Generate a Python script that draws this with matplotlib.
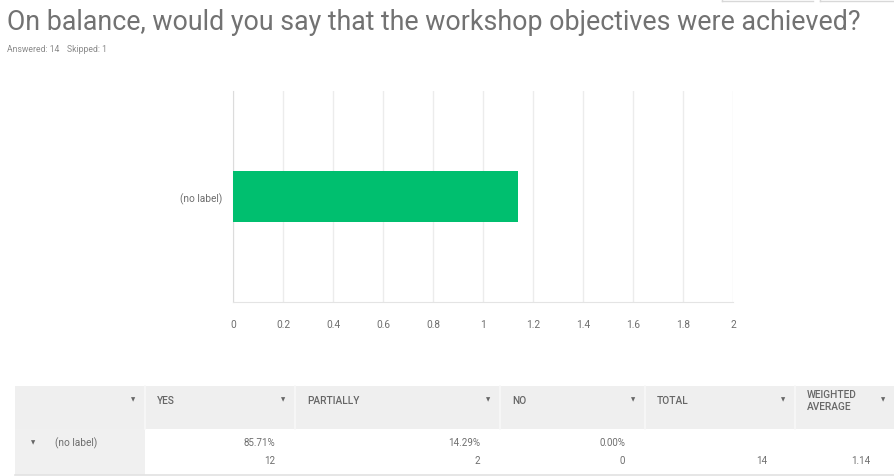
import matplotlib.pyplot as plt
from matplotlib.patches import Rectangle

# survey data
question = "On balance, would you say that the workshop objectives were achieved?"
answered = 14
skipped = 1
row_labels = ["(no label)"]
weighted_avg = [1.14]
choices = ["YES", "PARTIALLY", "NO"]
choice_pcts = [85.71, 14.29, 0.00]
choice_counts = [12, 2, 0]
totals = [14]
x_ticks = [0, 0.2, 0.4, 0.6, 0.8, 1, 1.2, 1.4, 1.6, 1.8, 2]
x_tick_labels = ["0", "0.2", "0.4", "0.6", "0.8", "1", "1.2", "1.4", "1.6", "1.8", "2"]

W, H = 895, 477
GREEN = "#00bf6f"
TXT = "#6e6e6e"
GRID = "#ececec"
plt.rcParams['font.family'] = ['Roboto', 'DejaVu Sans']

fig = plt.figure(figsize=(W / 100, H / 100), dpi=100)

# overlay axes in pixel coords for header text and table
ov = fig.add_axes([0, 0, 1, 1])
ov.set_xlim(0, W)
ov.set_ylim(H, 0)
ov.axis('off')

title = ov.text(7, 23, question, fontsize=16, color="#727272", va='center', ha='left')
# stretch the title to the width it has in the original (~853 px)
renderer = fig.canvas.get_renderer()
tw = title.get_window_extent(renderer).width
title.set_fontsize(16 * 853 / tw)

ov.text(7, 50, f"Answered: {answered}", fontsize=6.2, color="#8a8a8a", va='center')
ov.text(67, 50, f"Skipped: {skipped}", fontsize=6.2, color="#8a8a8a", va='center')

# faint button outlines at the top right
for x0, x1 in [(722, 813), (820, 895)]:
    ov.plot([x0, x1], [1.5, 1.5], color="#d8d8d8", lw=1)
    ov.plot([x0, x0], [0, 1.5], color="#d8d8d8", lw=1)

# bar chart
left, right, top, bottom = 233, 733, 92, 303
ax = fig.add_axes([left / W, 1 - bottom / H, (right - left) / W, (bottom - top) / H])
ax.barh(row_labels, weighted_avg, height=0.49, color=GREEN, zorder=3)
ax.set_xlim(0, 2)
ax.set_ylim(-1, 1)
ax.set_xticks(x_ticks)
ax.set_xticklabels(x_tick_labels)
ax.grid(axis='x', color=GRID, lw=1, zorder=0)
for s in ['top', 'right']:
    ax.spines[s].set_visible(False)
ax.spines['left'].set_color("#dcdcdc")
ax.spines['bottom'].set_color("#e4e4e4")
ax.tick_params(length=0, labelsize=7.3, colors=TXT, pad=12)
ax.tick_params(axis='y', pad=8)

# table
col_edges = [15, 145, 295, 500, 645, 795, 895]
head_top, head_bot, row_bot = 387, 430, 476
headers = [""] + choices + ["TOTAL", "WEIGHTED\nAVERAGE"]

for i in range(len(headers)):
    x0, x1 = col_edges[i], col_edges[i + 1]
    ov.add_patch(Rectangle((x0, head_top), x1 - x0, head_bot - head_top,
                           facecolor="#efefef", edgecolor="none"))
    if i > 0:
        ov.plot([x0, x0], [head_top, head_bot], color="#f8f8f8", lw=1.2)
    ov.text(x1 - 12, 400 if i < 6 else 405, "▼", fontsize=4, color="#666666",
            ha='center', va='center', family='DejaVu Sans')
    if headers[i]:
        ov.text(x0 + 12, 401 if i < 6 else 406, headers[i], fontsize=7.3, color="#666666",
                ha='left', va='center', linespacing=1.25, fontweight='medium')

# data row
ov.add_patch(Rectangle((col_edges[0], head_bot), col_edges[1] - col_edges[0],
                       row_bot - head_bot, facecolor="#f0f0f0", edgecolor="none"))
ov.plot([col_edges[0], W], [row_bot, row_bot], color="#e2e2e2", lw=1.2)
ov.text(33, 443, "▼", fontsize=4, color="#666666", ha='center', va='center',
        family='DejaVu Sans')
ov.text(55, 443, row_labels[0], fontsize=7.3, color=TXT, ha='left', va='center')

for j in range(len(choices)):
    xr = col_edges[j + 2] - 20
    ov.text(xr, 443, f"{choice_pcts[j]:.2f}%", fontsize=7, color=TXT, ha='right', va='center')
    ov.text(xr, 461, str(choice_counts[j]), fontsize=7, color=TXT, ha='right', va='center')
ov.text(col_edges[5] - 28, 461, str(totals[0]), fontsize=7, color=TXT, ha='right', va='center')
ov.text(col_edges[6] - 25, 461, f"{weighted_avg[0]:.2f}", fontsize=7, color=TXT,
        ha='right', va='center')

fig.savefig("out.png", dpi=100)
